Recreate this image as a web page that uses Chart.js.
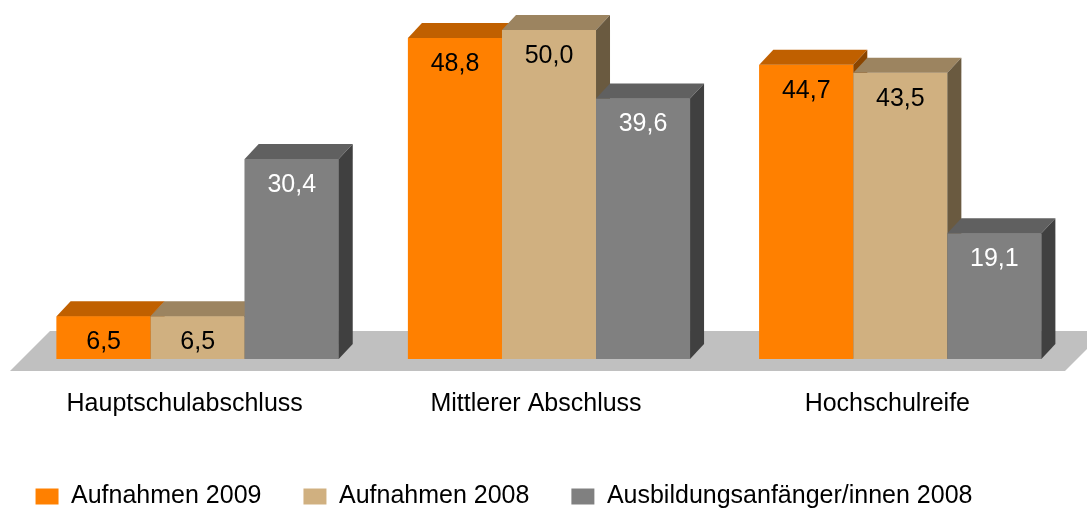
<!DOCTYPE html>
<html>
<head>
<meta charset="utf-8">
<script src="https://cdn.jsdelivr.net/npm/chart.js@4.4.1/dist/chart.umd.min.js"></script>
<style>
  html, body { margin: 0; padding: 0; background: #fff; }
  #wrap { width: 1087px; height: 508px; }
</style>
</head>
<body>
<div id="wrap"><canvas id="chart"></canvas></div>
<script>
// data
const categories = ['Hauptschulabschluss', 'Mittlerer Abschluss', 'Hochschulreife'];
const seriesNames = ['Aufnahmen 2009', 'Aufnahmen 2008', 'Ausbildungsanfänger/innen 2008'];
const aufnahmen2009 = [6.5, 48.8, 44.7];
const aufnahmen2008 = [6.5, 50.0, 43.5];
const ausbildung2008 = [30.4, 39.6, 19.1];

// front / top / side shades for the fake 3d look
const SHADES = [
    { front: '#FF8000', top: '#C06000', side: '#8A4500', label: '#000000' },
    { front: '#D0B080', top: '#9C8460', side: '#6A5A40', label: '#000000' },
    { front: '#808080', top: '#606060', side: '#404040', label: '#FFFFFF' },
];
const DEPTH_X = 14;
const DEPTH_Y = -15;
const FONT = "'Liberation Sans', Arial, sans-serif";

const fmt = v => v.toFixed(1).replace('.', ',');

// grey floor under the bars
const floorPlugin = {
    id: 'floor',
    beforeDatasetsDraw(chart) {
        const { ctx, chartArea } = chart;
        const base = chart.scales.y.getPixelForValue(0);
        const l = chartArea.left - 12, r = chartArea.right - 11;
        ctx.save();
        ctx.fillStyle = '#C0C0C0';
        ctx.beginPath();
        ctx.moveTo(l, base + 12);
        ctx.lineTo(r, base + 12);
        ctx.lineTo(r + 40, base - 28);
        ctx.lineTo(l + 40, base - 28);
        ctx.closePath();
        ctx.fill();
        ctx.restore();
    }
};

// Chart.js paints the last dataset first, so redo every box left to right:
// front (from the bar element), then top and right faces
const boxPlugin = {
    id: 'box3d',
    afterDatasetsDraw(chart) {
        const { ctx } = chart;
        ctx.save();
        chart.data.datasets.forEach((ds, i) => {
            const shade = SHADES[i];
            chart.getDatasetMeta(i).data.forEach(bar => {
                const { x, y, base, width } = bar.getProps(['x', 'y', 'base', 'width'], true);
                const l = x - width / 2, r = x + width / 2;
                ctx.fillStyle = shade.front;
                ctx.fillRect(l, y, width, base - y);
                ctx.fillStyle = shade.top;
                ctx.beginPath();
                ctx.moveTo(l, y);
                ctx.lineTo(r, y);
                ctx.lineTo(r + DEPTH_X, y + DEPTH_Y);
                ctx.lineTo(l + DEPTH_X, y + DEPTH_Y);
                ctx.closePath();
                ctx.fill();
                ctx.fillStyle = shade.side;
                ctx.beginPath();
                ctx.moveTo(r, y);
                ctx.lineTo(r + DEPTH_X, y + DEPTH_Y);
                ctx.lineTo(r + DEPTH_X, base + DEPTH_Y);
                ctx.lineTo(r, base);
                ctx.closePath();
                ctx.fill();
            });
        });

        ctx.font = '25px ' + FONT;
        ctx.textAlign = 'center';
        ctx.textBaseline = 'middle';
        chart.data.datasets.forEach((ds, i) => {
            ctx.fillStyle = SHADES[i].label;
            chart.getDatasetMeta(i).data.forEach((bar, j) => {
                ctx.fillText(fmt(ds.data[j]), bar.x, bar.y + 26);
            });
        });
        ctx.restore();
    }
};

// legend sits a bit left of centre in the original
const legendShift = {
    id: 'legendShift',
    afterLayout(chart) {
        const lg = chart.legend;
        lg.left -= 45; lg.right -= 45;
        lg.top += 1; lg.bottom += 1;
    }
};

const seriesData = [aufnahmen2009, aufnahmen2008, ausbildung2008];

new Chart(document.getElementById('chart'), {
    type: 'bar',
    data: {
        labels: categories,
        datasets: seriesData.map((d, i) => ({
            label: seriesNames[i],
            data: d,
            backgroundColor: SHADES[i].front,
            borderWidth: 0,
            categoryPercentage: 0.803,
            barPercentage: 1.0,
        }))
    },
    options: {
        responsive: true,
        maintainAspectRatio: false,
        animation: false,
        layout: { padding: { top: 30, left: 22, right: 11, bottom: -10 } },
        scales: {
            x: {
                grid: { display: false },
                border: { display: false },
                ticks: {
                    color: '#000',
                    font: { family: FONT, size: 25 },
                    padding: 22,
                    labelOffset: -13,
                    maxRotation: 0,
                }
            },
            y: {
                display: false,
                min: 0,
                max: 50,
            }
        },
        plugins: {
            legend: {
                position: 'bottom',
                labels: {
                    color: '#000',
                    font: { family: FONT, size: 25 },
                    boxWidth: 23,
                    boxHeight: 16,
                    padding: 42,
                }
            },
            tooltip: { enabled: false }
        }
    },
    plugins: [floorPlugin, boxPlugin, legendShift]
});
</script>
</body>
</html>
